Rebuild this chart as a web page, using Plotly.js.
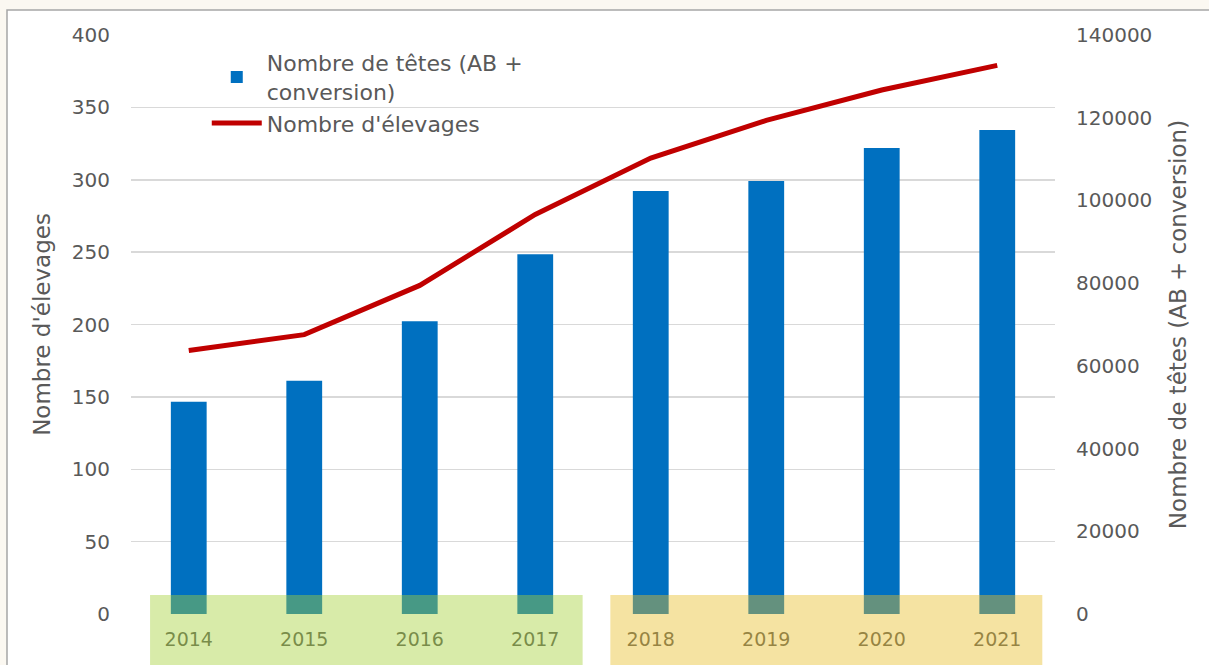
<!DOCTYPE html>
<html>
<head>
<meta charset="utf-8">
<script src="https://cdn.plot.ly/plotly-3.0.1.min.js"></script>
<style>
html,body{margin:0;padding:0;background:#fbf8f1;}
#chart{width:1209px;height:665px;}
</style>
</head>
<body>
<div id="chart"></div>
<script>
const years = ['2014','2015','2016','2017','2018','2019','2020','2021'];
const tetes = [51300, 56400, 70800, 87000, 102300, 104700, 112700, 117000];
const elevages = [182, 193, 227, 276, 315, 341, 362, 379];
const leftTicks = [0, 50, 100, 150, 200, 250, 300, 350, 400];
const rightTicks = [0, 20000, 40000, 60000, 80000, 100000, 120000, 140000];
const serieTetes = 'Nombre de têtes (AB +<br>conversion)';
const serieElevages = "Nombre d'élevages";
const titleLeft = "Nombre d'élevages";
const titleRight = 'Nombre de têtes (AB + conversion)';

const FONT = 'DejaVu Sans, sans-serif';
const GREY = '#595959';

const traces = [
  {
    type: 'bar', x: years, y: tetes, yaxis: 'y2', name: serieTetes,
    marker: {color: '#0070C0'}, hoverinfo: 'x+y'
  },
  {
    type: 'scatter', mode: 'lines', x: years, y: elevages, yaxis: 'y', name: serieElevages,
    line: {color: '#C00000', width: 5}
  }
];

const layout = {
  width: 1209, height: 665,
  margin: {l: 131, r: 154, t: 35, b: 51},
  paper_bgcolor: '#fbf8f1',
  plot_bgcolor: 'rgba(0,0,0,0)',
  font: {family: FONT, color: GREY, size: 20},
  bargap: 0.69,
  showlegend: true,
  legend: {
    x: 0.082, y: 0.988, xanchor: 'left', yanchor: 'top',
    bgcolor: 'rgba(0,0,0,0)', font: {family: FONT, size: 22, color: GREY},
    itemwidth: 50, tracegroupgap: 4
  },
  xaxis: {
    type: 'category', showgrid: false, showline: false, zeroline: false,
    ticks: '', tickfont: {size: 19, color: GREY}, ticklabelstandoff: 12
  },
  yaxis: {
    range: [0, 400], tickvals: leftTicks, showgrid: true, gridcolor: '#d9d9d9', gridwidth: 1.5,
    zeroline: false, showline: false, ticks: '', ticklabelstandoff: 20,
    tickfont: {size: 20, color: GREY},
    title: {text: titleLeft, font: {size: 23, color: GREY}, standoff: 14}
  },
  yaxis2: {
    range: [0, 140000], tickvals: rightTicks, tickformat: 'd', overlaying: 'y', side: 'right',
    showgrid: false, zeroline: false, showline: false, ticks: '', ticklabelstandoff: 20,
    tickfont: {size: 20, color: GREY},
    title: {text: titleRight, font: {size: 23, color: GREY}, standoff: 18}
  },
  shapes: [
    {type: 'rect', layer: 'below', xref: 'paper', yref: 'paper',
     x0: -0.1342, x1: 1.2, y0: -0.2, y1: 1.0432,
     fillcolor: '#ffffff', line: {color: '#a6a6a6', width: 1.5}},
    {type: 'rect', layer: 'above', xref: 'x', yref: 'paper',
     x0: -0.335, x1: 3.41, y0: -0.12, y1: 0.033,
     fillcolor: 'rgba(165,208,55,0.43)', line: {width: 0}},
    {type: 'rect', layer: 'above', xref: 'x', yref: 'paper',
     x0: 3.65, x1: 7.39, y0: -0.12, y1: 0.033,
     fillcolor: 'rgba(232,190,40,0.43)', line: {width: 0}}
  ]
};

Plotly.newPlot('chart', traces, layout, {displayModeBar: false, staticPlot: true});
</script>
</body>
</html>
